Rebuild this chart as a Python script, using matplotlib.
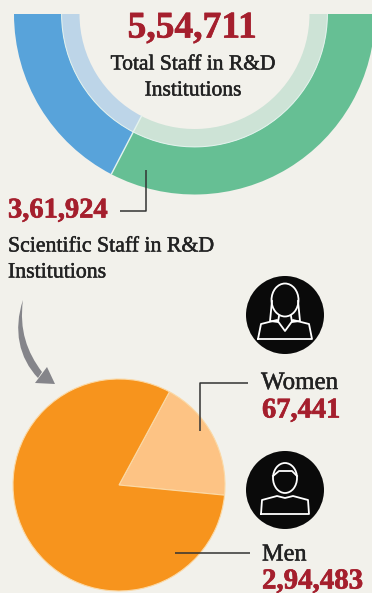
import matplotlib
matplotlib.use("Agg")
import matplotlib.pyplot as plt
import matplotlib.patheffects as pe
import numpy as np
from matplotlib.patches import Circle, PathPatch, Polygon, Ellipse
from matplotlib.path import Path

# values from the graphic
total_staff = 554711
scientific_staff = 361924
other_staff = total_staff - scientific_staff
women = 67441
men = 294483

total_label = "5,54,711"
scientific_label = "3,61,924"
women_label = "67,441"
men_label = "2,94,483"

bg = "#f2f1eb"
red = "#a51f2d"
ink = "#222222"
rim = "#e4f3ee"

plt.rcParams["font.family"] = ["Liberation Serif", "DejaVu Serif"]

fig = plt.figure(figsize=(3.72, 5.93), dpi=100, facecolor=bg)
ax = fig.add_axes([0, 0, 1, 1])


def py(y):
    # picture coordinates, y measured from the top
    return 593 - y


# half donut, the bottom half of a full circle is the visible part
cx, cy = 194.5, py(14)
half = [other_staff, scientific_staff, total_staff]
ax.pie(half, startangle=180, radius=180.5, center=(cx, cy), frame=True,
       colors=["#58a3da", "#66bf94", "none"],
       wedgeprops=dict(width=48, edgecolor="none"))
ax.pie(half, startangle=180, radius=133, center=(cx, cy), frame=True,
       colors=["#bdd5e8", "#cde3d6", "none"],
       wedgeprops=dict(width=18, edgecolor="none"))
# thin light rim between the rings
ax.pie(half, startangle=180, radius=133.4, center=(cx, cy), frame=True,
       colors=[rim, rim, "none"],
       wedgeprops=dict(width=1.0, edgecolor="none"))
# split line through both rings
split = np.radians(180 + 180 * other_staff / total_staff)
ax.plot([cx + 115 * np.cos(split), cx + 180 * np.cos(split)],
        [cy + 115 * np.sin(split), cy + 180 * np.sin(split)], color=rim, lw=1.0, zorder=3)

# gender pie
ax.pie([women, men], startangle=-5.5, radius=106, center=(119, py(485)), frame=True,
       colors=["#fdc384", "#f7941d"],
       wedgeprops=dict(edgecolor="#fbd9a6", linewidth=0.8))

# leader lines
line = dict(color="#333333", lw=1.1, solid_capstyle="butt", zorder=5)
ax.plot([146, 146, 120], [py(170), py(211), py(211)], **line)
ax.plot([248, 200, 200], [py(382.5), py(382.5), py(431)], **line)
ax.plot([175, 250], [py(553), py(553)], **line)

# curved arrow
arrow = Path([(23, py(300)), (13, py(330)), (19, py(358)), (38, py(378)),
              (42, py(372)), (27, py(352)), (19, py(330)), (23, py(300))],
             [Path.MOVETO, Path.CURVE4, Path.CURVE4, Path.CURVE4,
              Path.LINETO, Path.CURVE4, Path.CURVE4, Path.CURVE4])
ax.add_patch(PathPatch(arrow, fc="#85858a", ec="none", zorder=5))
ax.add_patch(Polygon([(35, py(383)), (55, py(384)), (47, py(367))], fc="#85858a", ec="none", zorder=5))


def icon(x, y, hair):
    ax.add_patch(Circle((x, py(y)), 39, fc="#0a0a0a", ec="none", zorder=5))
    w = dict(color="white", lw=1.3, zorder=6, solid_joinstyle="round")
    if hair:
        ax.add_patch(Ellipse((x, py(y - 15)), 27, 33, fc="none", ec="white", lw=1.3, zorder=6))
        ax.plot([x - 13, x - 15, x - 7, x - 6], [py(y - 14), py(y + 6), py(y + 7), py(y + 1)], **w)
        ax.plot([x + 13, x + 15, x + 7, x + 6], [py(y - 14), py(y + 6), py(y + 7), py(y + 1)], **w)
        ax.plot([x - 27, x - 24, x - 8, x, x + 8, x + 24, x + 27, x - 27],
                [py(y + 24), py(y + 9), py(y + 5), py(y + 16), py(y + 5), py(y + 9), py(y + 24), py(y + 24)], **w)
    else:
        ax.add_patch(Ellipse((x, py(y - 12)), 24, 30, fc="none", ec="white", lw=1.3, zorder=6))
        ax.plot([x - 12, x - 6, x + 7, x + 12], [py(y - 14), py(y - 19), py(y - 19), py(y - 14)], **w)
        ax.plot([x - 24, x - 23, x - 8, x, x + 8, x + 23, x + 24, x - 24],
                [py(y + 24), py(y + 10), py(y + 6), py(y + 8), py(y + 6), py(y + 10), py(y + 24), py(y + 24)], **w)


icon(285, 315, True)
icon(285, 490, False)

# texts
fat = [pe.withStroke(linewidth=0.35, foreground=ink)]
fat_red = [pe.withStroke(linewidth=0.5, foreground=red)]
big = dict(color=red, fontweight="bold", zorder=7, path_effects=fat_red)
body = dict(color=ink, zorder=7, path_effects=fat)
ax.text(192, py(28), total_label, fontsize=27, ha="center", va="center", **big)
ax.text(193, py(65), "Total Staff in R&D", fontsize=15.5, ha="center", va="center", **body)
ax.text(193, py(91), "Institutions", fontsize=15.5, ha="center", va="center", **body)
ax.text(8, py(211), scientific_label, fontsize=20.5, ha="left", va="center", **big)
ax.text(8, py(247), "Scientific Staff in R&D", fontsize=15.7, ha="left", va="center", **body)
ax.text(8, py(273), "Institutions", fontsize=15.7, ha="left", va="center", **body)
ax.text(261, py(383), "Women", fontsize=18, ha="left", va="center", **body)
ax.text(262, py(411), women_label, fontsize=20.5, ha="left", va="center", **big)
ax.text(262, py(555), "Men", fontsize=17.5, ha="left", va="center", **body)
ax.text(262, py(588.5), men_label, fontsize=20.8, ha="left", va="baseline", **big)

ax.set_xlim(0, 372)
ax.set_ylim(0, 593)
ax.set_aspect("equal")
ax.axis("off")

fig.savefig("out.png", dpi=100, facecolor=bg)
